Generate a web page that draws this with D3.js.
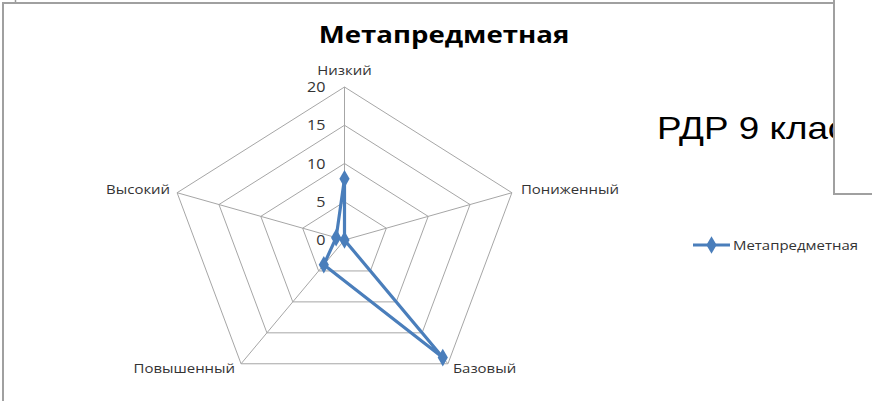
<!DOCTYPE html>
<html>
<head>
<meta charset="utf-8">
<script src="https://cdn.jsdelivr.net/npm/d3@7"></script>
<style>
  html, body { margin: 0; padding: 0; background: #fff; overflow: hidden; }
  text { font-family: "Open Sans", "Noto Sans", sans-serif; }
</style>
</head>
<body>
<script>
var categories = ['Низкий', 'Пониженный', 'Базовый', 'Повышенный', 'Высокий'],
    values = [8, 0, 19, 4, 1],
    ticks = [0, 5, 10, 15, 20],
    seriesName = 'Метапредметная',
    title = 'Метапредметная',
    overlayText = 'РДР 9 класс';

var width = 872,
    height = 401,
    cx = 344.5,
    cy = 240,
    stretch = 1.15,   // the picture is stretched horizontally
    svg = d3.select('body').append('svg')
        .attr('width', width)
        .attr('height', height),
    rx = d3.scaleLinear().domain([0, 20]).range([0, 176]),
    ry = d3.scaleLinear().domain([0, 20]).range([0, 153]),
    angle = function(i) { return (-90 + 72*i) * Math.PI / 180; },
    px = function(i, v) { return cx + rx(v)*Math.cos(angle(i)); },
    py = function(i, v) { return cy + ry(v)*Math.sin(angle(i)); },
    blue = '#4a7ebb',
    grid = '#a6a6a6',
    label = function(parent, x, y, str, anchor, size) {
        return parent.append('g')
            .attr('transform', 'translate(' + x + ',' + y + ') scale(' + stretch + ',1)')
            .append('text')
            .style('text-anchor', anchor)
            .style('font-size', size + 'px')
            .text(str);
    };

// chart frame
svg.append('line').attr('x1', 15.5).attr('x2', 15.5).attr('y1', 0).attr('y2', 3)
    .style('stroke', '#999').style('stroke-width', 1.5);
svg.append('path')
    .attr('d', 'M3 ' + height + 'L3 3L834 3')
    .style('fill', 'none').style('stroke', '#a0a0a0').style('stroke-width', 2);

// title
label(svg, 444, 43, title, 'middle', 24)
    .style('font-weight', 'bold')
    .style('fill', '#000');

// grid pentagons
var chart = svg.append('g');
chart.selectAll('path.ring')
    .data(ticks.slice(1))
    .enter()
    .append('path')
    .attr('class', 'ring')
    .attr('d', function(t) {
        return d3.line()(categories.map(function(c, i) { return [px(i, t), py(i, t)]; })) + 'Z';
    })
    .style('fill', 'none').style('stroke', grid).style('stroke-width', 1);

chart.selectAll('line.spoke')
    .data(categories)
    .enter()
    .append('line')
    .attr('class', 'spoke')
    .attr('x1', cx).attr('y1', cy)
    .attr('x2', function(d, i) { return px(i, 20); })
    .attr('y2', function(d, i) { return py(i, 20); })
    .style('stroke', grid).style('stroke-width', 1);

// tick labels along top spoke
ticks.forEach(function(t) {
    label(chart, cx - 19, cy - ry(t) + 5, t, 'end', 14).style('fill', '#333');
});

// category labels
var anchors = ['middle', 'start', 'start', 'end', 'end'],
    offx = [0, 9, 5, -6, -7],
    offy = [-12, 1, 9, 9, 1];
categories.forEach(function(c, i) {
    label(chart, px(i, 20) + offx[i], py(i, 20) + offy[i], c, anchors[i], 13).style('fill', '#333');
});

// series
var pts = values.map(function(v, i) { return [px(i, v), py(i, v)]; }),
    diamond = d3.symbol().type(d3.symbolDiamond).size(90);
chart.append('path')
    .attr('d', d3.line()(pts) + 'Z')
    .style('fill', 'none').style('stroke', blue).style('stroke-width', 3.2)
    .style('stroke-linejoin', 'round');
chart.selectAll('path.mark')
    .data(pts)
    .enter()
    .append('path')
    .attr('class', 'mark')
    .attr('d', diamond)
    .attr('transform', function(d) { return 'translate(' + d[0] + ',' + d[1] + ')'; })
    .style('fill', blue);

// legend
var legend = svg.append('g').attr('transform', 'translate(693,245)');
legend.append('line').attr('x1', 0).attr('x2', 37).attr('y1', 0).attr('y2', 0)
    .style('stroke', blue).style('stroke-width', 3);
legend.append('path').attr('d', diamond).attr('transform', 'translate(18.5,0)').style('fill', blue);
label(legend, 40, 5, seriesName, 'start', 13).style('fill', '#333');

// overlapping text box
label(svg, 657, 139, overlayText, 'start', 32)
    .style('font-family', '"Liberation Sans", Arial, sans-serif')
    .style('fill', '#000');
svg.append('rect')
    .attr('x', 834).attr('y', -10).attr('width', 60).attr('height', 204)
    .style('fill', '#fff').style('stroke', '#a0a0a0').style('stroke-width', 2);
</script>
</body>
</html>
